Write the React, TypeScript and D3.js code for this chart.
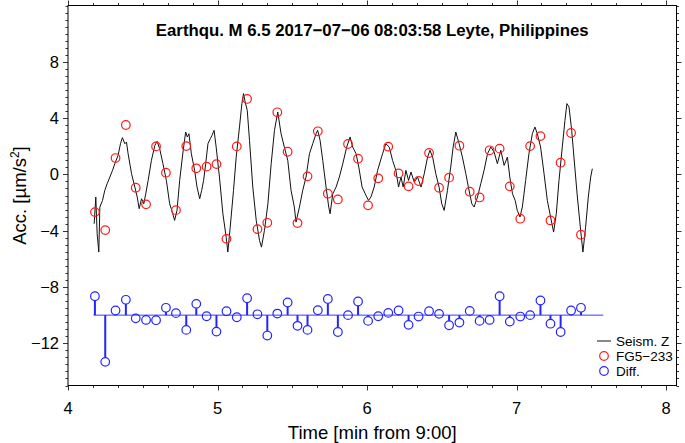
import React from "react";
import * as d3 from "d3";

// ---------- data ----------
const TRACE_T = [4.175,4.186,4.195,4.206,4.213,4.231,4.246,4.262,4.280,4.298,4.313,4.335,4.351,4.364,4.380,4.391,4.402,4.425,4.447,4.463,4.476,4.492,4.507,4.520,4.536,4.558,4.581,4.596,4.613,4.635,4.658,4.680,4.698,4.713,4.729,4.747,4.769,4.787,4.798,4.809,4.825,4.847,4.863,4.881,4.894,4.907,4.921,4.936,4.952,4.963,4.977,4.991,5.013,5.036,5.058,5.069,5.085,5.107,5.125,5.147,5.163,5.174,5.185,5.199,5.214,5.236,5.259,5.281,5.294,5.314,5.337,5.359,5.381,5.403,5.425,5.447,5.470,5.492,5.514,5.525,5.548,5.570,5.592,5.615,5.637,5.659,5.670,5.686,5.704,5.726,5.744,5.753,5.771,5.793,5.815,5.838,5.864,5.887,5.904,5.927,5.945,5.967,5.988,6.010,6.026,6.048,6.071,6.104,6.126,6.149,6.171,6.193,6.211,6.227,6.242,6.260,6.278,6.294,6.316,6.338,6.361,6.383,6.405,6.421,6.439,6.460,6.482,6.500,6.516,6.538,6.560,6.576,6.594,6.616,6.638,6.661,6.678,6.701,6.716,6.739,6.761,6.783,6.806,6.828,6.850,6.872,6.895,6.917,6.939,6.955,6.973,6.991,7.005,7.023,7.039,7.061,7.083,7.106,7.123,7.139,7.161,7.184,7.206,7.228,7.248,7.266,7.284,7.306,7.324,7.337,7.351,7.369,7.384,7.407,7.429,7.444,7.462,7.480,7.496,7.507];
const TRACE_V = [-3.51,-1.61,-4.22,-5.52,-2.32,-1.85,-1.14,-0.66,-0.19,0.29,0.76,1.35,2.18,2.61,2.18,2.30,1.47,0.05,-0.90,-1.61,-2.44,-1.73,-2.09,-1.38,-0.43,1.00,2.06,2.35,1.83,0.76,-0.43,-2.09,-2.68,-3.27,-2.56,-0.43,1.59,3.01,2.66,2.89,1.47,0.29,-0.90,-1.73,-1.14,-0.43,0.76,2.18,2.54,2.77,3.13,1.94,-0.19,-2.80,-4.46,-5.52,-3.75,-1.14,1.23,3.37,5.03,5.74,5.15,4.55,2.42,-0.90,-3.27,-4.69,-5.17,-3.98,-2.09,0.76,3.13,4.43,2.89,1.94,0.99,-1.14,-2.32,-3.39,-2.32,-1.14,-0.19,1.47,2.18,2.89,3.13,2.42,0.99,-0.90,-2.32,-2.80,-1.38,-0.90,-0.19,0.76,1.94,2.66,1.94,1.47,0.52,-0.90,-1.38,-1.85,-1.61,-0.90,0.29,1.47,2.18,1.94,0.99,0.29,-0.90,-0.19,-0.90,0.29,-0.43,0.17,-0.55,-0.19,-0.90,0.05,1.23,1.71,1.23,0.05,-0.90,-2.09,-2.56,-1.14,0.52,1.94,3.01,2.18,1.23,0.05,-0.90,-2.09,-2.32,-1.61,-0.66,0.29,1.47,1.94,1.59,0.76,1.71,0.64,1.23,-0.19,-1.38,-1.85,-2.56,-3.03,-2.32,-0.43,1.47,2.89,3.37,2.89,1.94,0.05,-1.85,-3.03,-4.10,-2.80,-0.43,1.94,3.84,5.03,4.79,3.13,1.23,-1.61,-3.98,-5.52,-3.75,-1.61,-0.19,0.40];

const FG5_T = [4.180,4.249,4.318,4.387,4.453,4.522,4.589,4.655,4.722,4.791,4.858,4.927,4.993,5.060,5.129,5.198,5.267,5.333,5.400,5.469,5.535,5.602,5.671,5.738,5.805,5.873,5.940,6.007,6.075,6.142,6.211,6.278,6.345,6.415,6.482,6.549,6.618,6.687,6.753,6.820,6.887,6.955,7.025,7.091,7.160,7.227,7.295,7.365,7.431];
const FG5_V = [-2.68,-3.96,1.16,3.51,-0.95,-2.13,1.99,0.12,-2.54,2.01,0.43,0.55,0.73,-4.58,1.99,5.36,-3.89,-3.44,4.41,1.61,-3.46,-0.14,3.06,-1.37,-1.78,2.16,1.11,-2.20,-0.28,1.97,0.07,-0.85,-0.47,1.52,-0.95,-0.23,2.04,-1.23,-1.64,1.71,1.83,-0.85,-3.15,2.01,2.72,-3.27,0.83,2.94,-4.29];
const DIFF_V = [-8.66,-13.32,-9.67,-8.91,-10.23,-10.34,-10.36,-9.48,-9.86,-11.05,-9.20,-10.08,-11.17,-9.72,-10.15,-8.80,-9.94,-11.45,-9.89,-9.10,-10.76,-11.05,-9.65,-8.85,-11.20,-10.00,-9.03,-10.41,-10.08,-9.84,-9.67,-10.69,-10.10,-9.72,-9.91,-10.72,-10.53,-9.70,-10.41,-10.34,-8.66,-10.46,-10.10,-10.00,-8.96,-10.61,-11.20,-9.67,-9.48];
const DIFF_BASE = -10;
const DIFF_BASE_RANGE = [4.17, 7.58];

const X_TICKS = [4, 5, 6, 7, 8];
const Y_TICKS = [-12, -8, -4, 0, 4, 8];
const X_DOMAIN = [4, 8.07];
const Y_DOMAIN = [-15, 12];

const TITLE = "Earthqu. M 6.5 2017\u221207\u221206 08:03:58 Leyte, Philippines";
const X_LABEL = "Time [min from 9:00]";
const LEGEND = ["Seism. Z", "FG5\u2212233", "Diff."];

// ---------- layout ----------
const W = 685, H = 443;
const L = 68, R = 676.5, T = 5.5, B = 385.5;
const FONT = "'Liberation Sans', Arial, Helvetica, sans-serif";
const RED = "#ff1a1a";
const BLUE = "#2424ff";

export default function App() {
  const x = d3.scaleLinear().domain(X_DOMAIN).range([L, R]);
  const y = d3.scaleLinear().domain(Y_DOMAIN).range([B, T]);

  const line = d3
    .line<number>()
    .x((_, i) => x(TRACE_T[i]))
    .y((v) => y(v));

  const xMinor = d3.range(0, 25).map((i) => 4 + i / 6);
  const yMinor = d3.range(0, 55).map((i) => -15 + i * 0.5);

  const fmt = (v: number) => (v < 0 ? "\u2212" + Math.abs(v) : String(v));

  const r = 4.3;
  const cxMid = (L + R) / 2;

  return (
    <div style={{ position: "fixed", left: 0, top: 0 }}>
      <svg width={W} height={H} style={{ display: "block", background: "#fff" }} fontFamily={FONT}>
        {/* frame */}
        <rect x={L} y={T} width={R - L} height={B - T} fill="none" stroke="#000" strokeWidth={1} />
        {xMinor.map((t, i) => {
          const major = X_TICKS.some((m) => Math.abs(m - t) < 1e-6);
          const len = major ? 5 : 2.5;
          const px = Math.round(x(t)) + 0.5;
          return (
            <g key={"xt" + i}>
              <line x1={px} x2={px} y1={B} y2={B + len} stroke="#000" strokeWidth={0.8} />
              <line x1={px} x2={px} y1={T} y2={T - len} stroke="#000" strokeWidth={0.8} />
            </g>
          );
        })}
        {yMinor.map((v, i) => {
          const major = Y_TICKS.some((m) => Math.abs(m - v) < 1e-6);
          const len = major ? 5 : 2.5;
          const py = Math.round(y(v)) + 0.5;
          return (
            <g key={"yt" + i}>
              <line x1={L} x2={L - len} y1={py} y2={py} stroke="#000" strokeWidth={0.8} />
              <line x1={R} x2={R + len} y1={py} y2={py} stroke="#000" strokeWidth={0.8} />
            </g>
          );
        })}
        {X_TICKS.map((t) => (
          <text key={"xl" + t} x={x(t)} y={414} textAnchor="middle" fontSize={16.5}>
            {fmt(t)}
          </text>
        ))}
        {Y_TICKS.map((v) => (
          <text key={"yl" + v} x={59} y={y(v)} dy="0.36em" textAnchor="end" fontSize={16.5}>
            {fmt(v)}
          </text>
        ))}
        <text x={cxMid} y={439} textAnchor="middle" fontSize={18.5}>
          {X_LABEL}
        </text>
        <text transform={`translate(26, ${(T + B) / 2}) rotate(-90)`} textAnchor="middle" fontSize={18.5}>
          Acc. [µm/s<tspan fontSize={12} dy={-7}>2</tspan>
          <tspan dy={7}>]</tspan>
        </text>
        <text x={cxMid} y={36} textAnchor="middle" fontSize={16.8} fontWeight="bold">
          {TITLE}
        </text>

        {/* seismogram */}
        <path d={line(TRACE_V) || ""} fill="none" stroke="#111" strokeWidth={1} strokeLinejoin="round" />

        {/* FG5 points */}
        {FG5_V.map((v, i) => (
          <circle key={"fg" + i} cx={x(FG5_T[i])} cy={y(v)} r={r} fill="none" stroke={RED} strokeWidth={1.2} />
        ))}

        {/* diff stems */}
        <line x1={x(DIFF_BASE_RANGE[0])} x2={x(DIFF_BASE_RANGE[1])} y1={y(DIFF_BASE)} y2={y(DIFF_BASE)} stroke={BLUE} strokeWidth={0.9} />
        {DIFF_V.map((v, i) => {
          const cx = x(FG5_T[i]);
          const cy = y(v);
          const by = y(DIFF_BASE);
          const dir = cy < by ? 1 : -1;
          const endY = Math.abs(cy - by) > r ? cy + dir * r : by;
          return (
            <g key={"df" + i}>
              <line x1={cx} x2={cx} y1={by} y2={endY} stroke={BLUE} strokeWidth={2} />
              <circle cx={cx} cy={cy} r={r} fill="none" stroke={BLUE} strokeWidth={1.2} />
            </g>
          );
        })}

        {/* legend */}
        <g fontSize={13.5}>
          <line x1={597} x2={611} y1={341} y2={341} stroke="#111" strokeWidth={1} />
          <text x={616} y={341} dy="0.36em">{LEGEND[0]}</text>
          <circle cx={604} cy={356} r={r} fill="none" stroke={RED} strokeWidth={1.2} />
          <text x={616} y={356} dy="0.36em">{LEGEND[1]}</text>
          <circle cx={604} cy={371} r={r} fill="none" stroke={BLUE} strokeWidth={1.2} />
          <text x={616} y={371} dy="0.36em">{LEGEND[2]}</text>
        </g>
      </svg>
    </div>
  );
}
